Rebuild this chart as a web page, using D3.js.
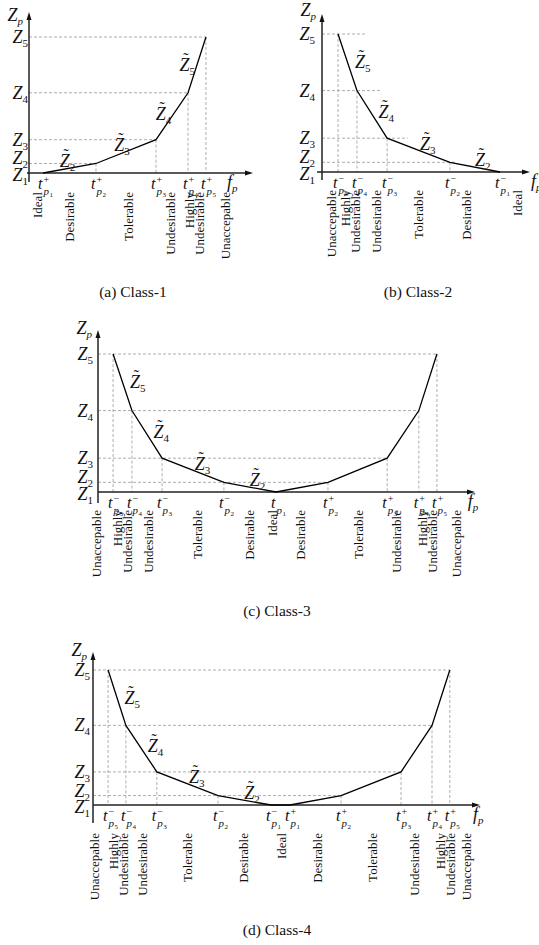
<!DOCTYPE html>
<html>
<head>
<meta charset="utf-8">
<script src="https://cdn.jsdelivr.net/npm/d3@7"></script>
<style>
    body { margin: 0; background: #fff; }
    svg text { font-family: "Liberation Serif", "Times New Roman", serif; fill: #111; }
    .guide { stroke: #999; stroke-width: 0.8; stroke-dasharray: 3,2; fill: none; }
    .curve { stroke: #000; stroke-width: 1.3; fill: none; }
    .axis { stroke: #222; stroke-width: 1.5; }
</style>
</head>
<body>
<svg id="fig" width="539" height="945"></svg>
<script>
// relative height of the preference levels Z1..Z5
const zLevels = [0, 0.07, 0.245, 0.59, 1];

// (a) Class-1 : smaller is better
const c1T = [6.3, 29.9, 56.7, 71.0, 79.0];
const c1Lvl = [0, 1, 2, 3, 4];
const c1Sign = ["+", "+", "+", "+", "+"];
const c1Idx = [1, 2, 3, 4, 5];
const c1Cats = ["Ideal", "Desirable", "Tolerable", "Undesirable", "Highly|Undesirable", "Unaccepable"];
const c1CatPos = [4.0, 18.3, 44.2, 63.0, 74.1, 87.5];
const c1Fp = 88.4;

// (b) Class-2 : larger is better
const c2T = [7.7, 16.8, 31.3, 61.5, 85.6];
const c2Lvl = [4, 3, 2, 1, 0];
const c2Sign = ["\u2212", "\u2212", "\u2212", "\u2212", "\u2212"];
const c2Idx = [5, 4, 3, 2, 1];
const c2DashEnd = [0, 63.9, 41.3, 28.8, 21.6];
const c2Cats = ["Unaccepable", "Highly|Undesirable", "Undesirable", "Tolerable", "Desirable", "Ideal"];
const c2CatPos = [4.8, 13.5, 26.4, 46.2, 69.7, 93.8];
const c2Fp = 100.5;

// (c) Class-3 : value is better
const c3T = [4.0, 9.0, 17.0, 33.4, 47.2, 61.0, 76.7, 85.1, 89.9];
const c3Lvl = [4, 3, 2, 1, 0, 1, 2, 3, 4];
const c3Sign = ["\u2212", "\u2212", "\u2212", "\u2212", "", "+", "+", "+", "+"];
const c3Idx = [5, 4, 3, 2, 1, 2, 3, 4, 5];
const c3Cats = ["Unaccepable", "Highly|Undesirable", "Undesirable", "Tolerable", "Desirable", "Ideal",
    "Desirable", "Tolerable", "Undesirable", "Highly|Undesirable", "Unaccepable"];
const c3CatPos = [-0.3, 6.4, 13.3, 26.3, 40.3, 46.4, 53.6, 69.0, 79.3, 87.5, 95.2];
const c3Fp = 98.1;

// (d) Class-4 : range is better
const c4T = [3.9, 8.5, 16.5, 32.3, 46.0, 50.9, 64.1, 79.6, 87.6, 92.2];
const c4Lvl = [4, 3, 2, 1, 0, 0, 1, 2, 3, 4];
const c4Sign = ["\u2212", "\u2212", "\u2212", "\u2212", "\u2212", "+", "+", "+", "+", "+"];
const c4Idx = [5, 4, 3, 2, 1, 1, 2, 3, 4, 5];
const c4Cats = ["Unaccepable", "Highly|Undesirable", "Undesirable", "Tolerable", "Desirable", "Ideal",
    "Desirable", "Tolerable", "Undesirable", "Highly|Undesirable", "Unaccepable"];
const c4CatPos = [0.5, 6.5, 12.9, 24.5, 38.8, 48.8, 58.1, 72.1, 83.2, 91.0, 96.6];
const c4Fp = 98.2;

const captions = ["(a) Class-1", "(b) Class-2", "(c) Class-3", "(d) Class-4"];
// segments that carry a Z~ label (index of the first point)
const tildeSegs = [0, 1, 2, 3];

var svg = d3.select("#fig");

function zText(g, xPos, yBase, sub, anchor) {
    var t = g.append("text")
        .attr("x", xPos)
        .attr("y", yBase)
        .attr("text-anchor", anchor);
    t.append("tspan").attr("font-style", "italic").attr("font-size", 18).text("Z");
    t.append("tspan")
        .attr("font-size", 11)
        .attr("dy", 4)
        .attr("font-style", sub === "p" ? "italic" : "normal")
        .text(sub);
    return t;
}

function drawPanel(p, lay) {
    var x = d3.scaleLinear().domain([0, 100]).range([lay.ox, lay.xEnd]);
    var y = d3.scaleLinear().domain([0, 1]).range([lay.oy, lay.top]);
    var g = svg.append("g");

    var pts = p.t.map(function (t, i) {
        return {x: x(t), y: y(zLevels[p.lvl[i]]), lvl: p.lvl[i], sign: p.sign[i], idx: p.idx[i]};
    });

    // dashed guide lines
    for (let l = 1; l < zLevels.length; l++) {
        let xe = p.dashEnd ? x(p.dashEnd[l]) : d3.max(pts.filter(d => d.lvl === l), d => d.x);
        g.append("line").attr("class", "guide")
            .attr("x1", lay.ox).attr("x2", xe)
            .attr("y1", y(zLevels[l])).attr("y2", y(zLevels[l]));
    }
    pts.filter(d => d.lvl > 0).forEach(function (d) {
        g.append("line").attr("class", "guide")
            .attr("x1", d.x).attr("x2", d.x)
            .attr("y1", d.y).attr("y2", lay.oy);
    });

    // axes
    g.append("line").attr("class", "axis")
        .attr("x1", lay.ox).attr("x2", lay.ox)
        .attr("y1", lay.oy + lay.yExt).attr("y2", lay.axisTop + 4);
    g.append("path")
        .attr("d", "M" + lay.ox + "," + lay.axisTop + "l-2.5,8h5z")
        .style("fill", "#111");
    g.append("line").attr("class", "axis")
        .attr("x1", lay.xStart).attr("x2", lay.xEnd - 4)
        .attr("y1", lay.oy).attr("y2", lay.oy);
    g.append("path")
        .attr("d", "M" + lay.xEnd + "," + lay.oy + "l-8,-2.5v5z")
        .style("fill", "#111");

    // preference curve
    g.append("path").attr("class", "curve")
        .attr("d", d3.line().x(d => d.x).y(d => d.y)(pts));

    // Z level labels
    var zShift = [2, -5, 0, 0, 0];
    zLevels.forEach(function (z, l) {
        zText(g, lay.ox - lay.zGap, y(z) + 6 + zShift[l], String(l + 1), "end");
    });
    zText(g, lay.ox - 6, lay.zpY, "p", "end");

    // Z~ labels along the segments
    tildeSegs.forEach(function (s) {
        var a = pts[s], b = pts[s + 1];
        var dx = b.x - a.x, dy = b.y - a.y, len = Math.hypot(dx, dy);
        var cx = (a.x + b.x) / 2 + dy / len * 10 + Math.sign(dy) * 3;
        var cy = (a.y + b.y) / 2 - dx / len * 10 + 3;
        var lv = Math.max(a.lvl, b.lvl) + 1;
        zText(g, cx - 5, cy + 6, String(lv), "start");
        g.append("text")
            .attr("x", cx + 1.5)
            .attr("y", cy - 1)
            .attr("text-anchor", "middle")
            .attr("font-size", 16)
            .text("\u02DC");
    });

    // t tick labels
    pts.forEach(function (d) {
        g.append("text").attr("x", d.x - 5).attr("y", lay.oy + 16)
            .attr("font-style", "italic").attr("font-size", 16).text("t");
        if (d.sign) {
            g.append("text").attr("x", d.x + 0.5).attr("y", lay.oy + 10)
                .attr("font-size", 10).text(d.sign);
        }
        g.append("text").attr("x", d.x + 0.5).attr("y", lay.oy + 22)
            .attr("font-style", "italic").attr("font-size", 11).text("p");
        g.append("text").attr("x", d.x + 6.5).attr("y", lay.oy + 24)
            .attr("font-size", 7).text(d.idx);
    });

    // f_p
    var fp = g.append("text").attr("x", x(p.fp)).attr("y", lay.oy + 15);
    fp.append("tspan").attr("font-style", "italic").attr("font-size", 18).text("f");
    fp.append("tspan").attr("font-style", "italic").attr("font-size", 11).attr("dy", 4).text("p");

    // category labels (rotated)
    p.cats.forEach(function (c, i) {
        var lines = c.split("|");
        lines.forEach(function (ln, j) {
            var off = (j - (lines.length - 1) / 2) * 10;
            g.append("text")
                .attr("transform", "translate(" + (x(p.catPos[i]) + off + 4.5) + "," + lay.catTop + ") rotate(-90)")
                .attr("text-anchor", "end")
                .attr("font-size", 13)
                .text(ln);
        });
    });

    // caption
    g.append("text")
        .attr("x", lay.capX).attr("y", lay.capY)
        .attr("text-anchor", "middle")
        .attr("font-size", 15.5)
        .text(p.caption);
}

drawPanel({t: c1T, lvl: c1Lvl, sign: c1Sign, idx: c1Idx, cats: c1Cats, catPos: c1CatPos, fp: c1Fp, caption: captions[0]},
    {ox: 29, oy: 173, top: 37, axisTop: 12, xStart: 27, xEnd: 253, yExt: 9, zGap: 1, zpY: 21, catTop: 192, capX: 133, capY: 297});
drawPanel({t: c2T, lvl: c2Lvl, sign: c2Sign, idx: c2Idx, cats: c2Cats, catPos: c2CatPos, fp: c2Fp, dashEnd: c2DashEnd, caption: captions[1]},
    {ox: 322, oy: 172, top: 34, axisTop: 14, xStart: 317, xEnd: 530, yExt: 8, zGap: 7, zpY: 16, catTop: 190, capX: 418, capY: 297});
drawPanel({t: c3T, lvl: c3Lvl, sign: c3Sign, idx: c3Idx, cats: c3Cats, catPos: c3CatPos, fp: c3Fp, caption: captions[2]},
    {ox: 98, oy: 492, top: 354, axisTop: 330, xStart: 98, xEnd: 475, yExt: 11, zGap: 5, zpY: 334, catTop: 510, capX: 277, capY: 616});
drawPanel({t: c4T, lvl: c4Lvl, sign: c4Sign, idx: c4Idx, cats: c4Cats, catPos: c4CatPos, fp: c4Fp, caption: captions[3]},
    {ox: 93, oy: 805, top: 670, axisTop: 652, xStart: 93, xEnd: 480, yExt: 18, zGap: 3, zpY: 656, catTop: 833, capX: 277, capY: 935});
</script>
</body>
</html>
